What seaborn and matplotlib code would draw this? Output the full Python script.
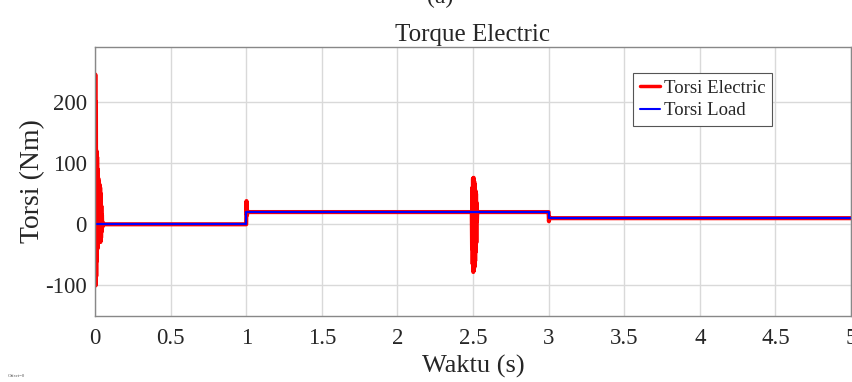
import matplotlib
matplotlib.use("Agg")
import matplotlib.pyplot as plt
import seaborn as sns
import pandas as pd

# ---- data ----
t_elec = [0.000, 0.002, 0.004, 0.006, 0.008, 0.010, 0.012, 0.014, 0.016, 0.018,
          0.020, 0.022, 0.024, 0.026, 0.028, 0.030, 0.032, 0.034, 0.036, 0.038,
          0.040, 0.042, 0.044, 0.046, 0.048, 0.050, 0.060,
          0.999, 1.000, 1.002, 1.005, 1.008, 1.012,
          2.492, 2.494, 2.496, 2.498, 2.500, 2.502, 2.504, 2.506, 2.508,
          2.510, 2.512, 2.514, 2.516, 2.518, 2.520, 2.522, 2.524, 2.526,
          2.528, 2.532,
          2.999, 3.000, 3.002, 3.006, 3.010, 5.000]
v_elec = [0, 245, -100, 200, -85, 120, -60, 110, -40, 90,
          -30, 75, -25, 70, -22, 65, -26, 60, -29, 50,
          -22, 30, -12, 15, -5, 3, 0,
          0, 0, 38, 15, 22, 20,
          20, -40, 60, -65, 75, -78, 76, -75, 70,
          -70, 65, -60, 55, -45, 50, -30, 35, 5,
          22, 20,
          20, 20, 5, 12, 10, 10]
t_load = [0, 1, 1, 3, 3, 5]
v_load = [0, 0, 20, 20, 10, 10]

labels = ["Torsi Electric", "Torsi Load"]
x_ticks = [0, 0.5, 1, 1.5, 2, 2.5, 3, 3.5, 4, 4.5, 5]
x_tick_labels = ["0", "0.5", "1", "1.5", "2", "2.5", "3", "3.5", "4", "4.5", "5"]
y_ticks = [-100, 0, 100, 200]
y_tick_labels = ["-100", "0", "100", "200"]

sns.set_style("white")
plt.rcParams["font.family"] = ["Liberation Serif", "DejaVu Serif"]
plt.rcParams["axes.unicode_minus"] = False

df_e = pd.DataFrame({"t": t_elec, "v": v_elec})
df_l = pd.DataFrame({"t": t_load, "v": v_load})

fig = plt.figure(figsize=(8.53, 3.82), dpi=100)
ax = fig.add_axes([95 / 853, 1 - 316 / 382, (851 - 95) / 853, (316 - 47) / 382])

sns.lineplot(data=df_e, x="t", y="v", ax=ax, color="#ff0000", linewidth=3.0,
             sort=False, estimator=None, label=labels[0])
sns.lineplot(data=df_l, x="t", y="v", ax=ax, color="#0000ff", linewidth=1.6,
             sort=False, estimator=None, label=labels[1])

ax.set_xlim(0, 5)
ax.set_ylim(-150, 290)
ax.set_xticks(x_ticks)
ax.set_xticklabels(x_tick_labels)
ax.set_yticks(y_ticks)
ax.set_yticklabels(y_tick_labels)
ax.tick_params(axis="both", labelsize=16.5, direction="in", length=4,
               color="#888888")
ax.tick_params(axis="x", pad=9)
ax.tick_params(axis="y", pad=6)
ax.grid(True, color="#d9d9d9", linewidth=1.0)
for s in ax.spines.values():
    s.set_color("#888888")
    s.set_linewidth(1.0)

ax.set_xlabel("Waktu (s)", fontsize=19, labelpad=4)
ax.set_ylabel("Torsi (Nm)", fontsize=20, labelpad=0)
ax.set_title("Torque Electric", fontsize=18, pad=4)

leg = ax.legend(loc="upper left", bbox_to_anchor=(633 / 853, 1 - 73 / 382),
                bbox_transform=fig.transFigure, fontsize=13.5, frameon=True,
                fancybox=False, edgecolor="#555555", framealpha=1,
                handlelength=1.1, handletextpad=0.2, borderpad=0.35,
                labelspacing=0.3, borderaxespad=0)
leg.get_frame().set_linewidth(0.8)
leg.get_lines()[0].set_linewidth(2.5)
leg.get_lines()[1].set_linewidth(1.5)

fig.text(440 / 853, 1 + 3 / 382, "(a)", fontsize=17, ha="center", va="center")
fig.text(8 / 853, 1 - 376 / 382, "Offset=0", fontsize=3.5, color="#555555",
         ha="left", va="center")

fig.savefig("out.png", dpi=100)
